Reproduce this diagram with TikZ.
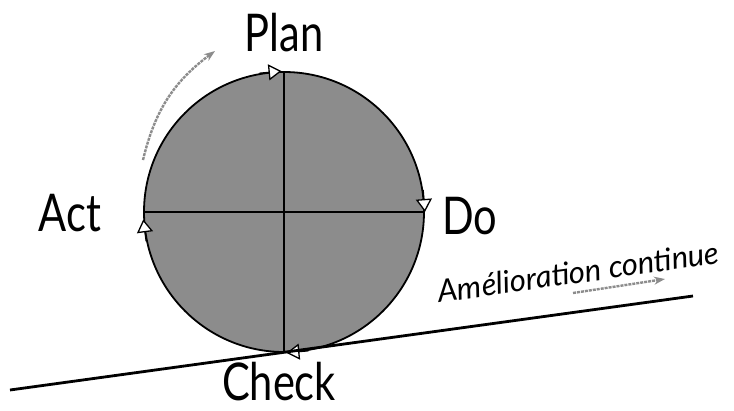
\documentclass[tikz,border=0pt]{standalone}
\usepackage{fontspec}
\setmainfont{Lato}
\usetikzlibrary{arrows.meta}

\tikzset{
  phase/.style={font=\fontsize{52}{52}\selectfont, inner sep=0pt},
  spin/.style={line width=1.3pt, arrows={-Triangle[open, length=13pt, width=16pt, fill=white]}},
  drift/.style={black!45, line width=2.4pt, dash pattern=on 3pt off 1pt, -{Stealth[length=11pt,width=8pt]}},
}
\newcommand{\narrow}[1]{\scalebox{0.8}[1]{#1}}

\begin{document}
\begin{tikzpicture}[x=1pt,y=-1pt]
  \useasboundingbox (0,0) rectangle (734,410);
  % la roue
  \node[circle, draw, line width=1.8pt, fill=black!45, minimum size=280pt, inner sep=0pt] (cycle) at (284,212) {};
  \draw[line width=1.6pt] (cycle.north) -- (cycle.south);
  \draw[line width=1.6pt] (cycle.west) -- (cycle.east);
  % sens de rotation
  \draw[spin] (cycle.100) -- (cycle.91);
  \draw[spin] (cycle.9) -- (cycle.0);
  \draw[spin] (cycle.280) -- (cycle.271);
  \draw[spin] (cycle.192) -- (cycle.183);
  % la pente
  \coordinate (ground west) at (10,390);
  \coordinate (ground east) at (693,296);
  \draw[line width=2.8pt] (ground west) -- (ground east);
  % les quatre phases
  \node[phase] (plan) at (284,33) {\narrow{Plan}};
  \node[phase] (do) at (470,216) {\narrow{Do}};
  \node[phase] (check) at (279,382) {\narrow{Check}};
  \node[phase] (act) at (70,213) {\narrow{Act}};
  % amelioration
  \node[font=\itshape\fontsize{31}{31}\selectfont, anchor=base, rotate=8, inner sep=0pt] (gain) at (580,283) {Amélioration continue};
  \coordinate (swing start) at (143,160);
  \coordinate (swing end) at (215,51);
  \draw[drift] (swing start) to[bend left=20] (swing end);
  \coordinate (push start) at (573,293);
  \coordinate (push end) at (665,279);
  \draw[drift] (push start) -- (push end);
\end{tikzpicture}
\end{document}
